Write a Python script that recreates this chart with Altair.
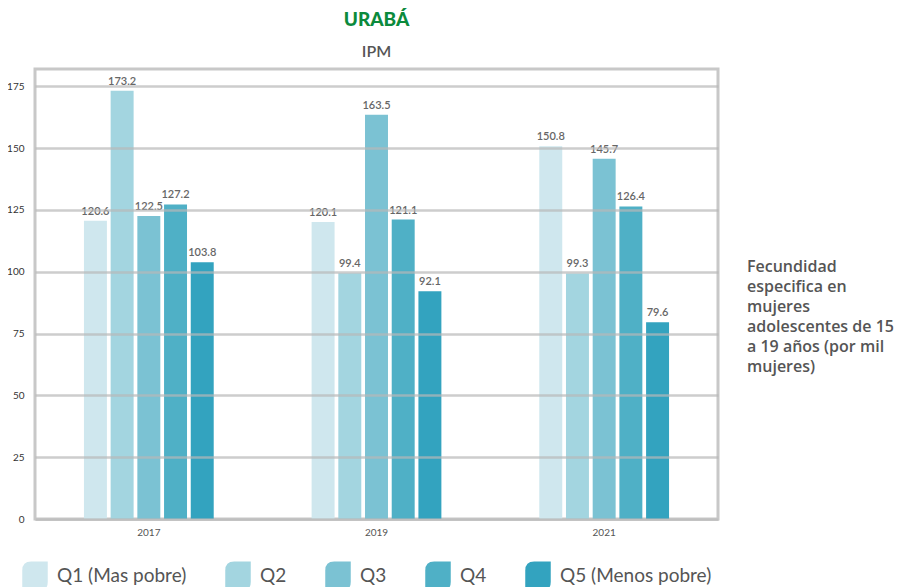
import altair as alt
import pandas as pd

years = ["2017", "2019", "2021"]
quintiles = ["Q1 (Mas pobre)", "Q2", "Q3", "Q4", "Q5 (Menos pobre)"]
values = {
    "2017": [120.6, 173.2, 122.5, 127.2, 103.8],
    "2019": [120.1, 99.4, 163.5, 121.1, 92.1],
    "2021": [150.8, 99.3, 145.7, 126.4, 79.6],
}
colors = ["#cfe7ee", "#a3d5e0", "#7bc2d3", "#4fb0c6", "#33a3bf"]
side_note = "Fecundidad\nespecifica en\nmujeres\nadolescentes de 15\na 19 años (por mil\nmujeres)"

rows = []
for y in years:
    for q, v in zip(quintiles, values[y]):
        rows.append({"year": y, "q": q, "value": v})
df = pd.DataFrame(rows)

FONT = "Lato"
leaf = "M -1 1.15 L -1 -0.45 Q -1 -1.15 -0.3 -1.15 L 1 -1.15 L 1 0.45 Q 1 1.15 0.3 1.15 Z"

x_enc = alt.X("year:N", sort=years,
              scale=alt.Scale(paddingInner=0.43, paddingOuter=0.215),
              axis=alt.Axis(title=None, labelAngle=0, labelFontSize=10, labelColor="#555",
                            labelPadding=8, ticks=False, domainColor="#d0d0d0",
                            domainWidth=3, labelFont=FONT))
xoff = alt.XOffset("q:N", sort=quintiles, scale=alt.Scale(paddingInner=0.14))
y_enc = alt.Y("value:Q", scale=alt.Scale(domain=[0, 182], nice=False),
              axis=alt.Axis(title=None, values=[0, 25, 50, 75, 100, 125, 150, 175],
                            grid=True, gridColor="#b8b8b8", gridOpacity=0.7, gridWidth=2.5,
                            zindex=1, domain=False, ticks=False, labelFontSize=10,
                            labelColor="#333", labelPadding=11, labelFont=FONT))

bars = alt.Chart(df).mark_bar().encode(
    x=x_enc, xOffset=xoff, y=y_enc,
    color=alt.Color("q:N", sort=quintiles,
                    scale=alt.Scale(domain=quintiles, range=colors),
                    legend=alt.Legend(title=None, orient="none", direction="horizontal",
                                      legendX=-13, legendY=494, symbolType=leaf,
                                      symbolSize=650, symbolStrokeWidth=0,
                                      symbolOpacity=1, labelFontSize=19,
                                      labelColor="#555", labelFont=FONT,
                                      labelOffset=9, columnPadding=38)),
)

labels = alt.Chart(df).mark_text(baseline="bottom", dy=-4, fontSize=11, color="#666",
                                 font=FONT, fontWeight=600).encode(
    x=alt.X("year:N", sort=years), xOffset=alt.XOffset("q:N", sort=quintiles),
    y="value:Q", text=alt.Text("value:Q", format=".1f"),
)

note = alt.Chart(pd.DataFrame({"t": [side_note]})).mark_text(
    align="left", baseline="top", lineBreak="\n", fontSize=16, lineHeight=20,
    color="#555", font="Open Sans", fontWeight=600,
).encode(x=alt.value(712), y=alt.value(190), text="t:N")

chart = alt.layer(bars, labels, note).properties(
    width=683, height=450,
    autosize=alt.AutoSizeParams(type="none"),
    padding={"left": 27, "top": 61, "right": 185, "bottom": 68},
    title=alt.TitleParams(text="URABÁ", subtitle="IPM", anchor="middle", frame="group",
                          fontSize=19, font=FONT, fontWeight=900, color="#0b8a3c",
                          subtitleFont=FONT, subtitleFontSize=16, subtitleColor="#555",
                          subtitleFontWeight=600, subtitlePadding=14, offset=9),
).configure_view(stroke="#c8c8c8", strokeWidth=3)

chart.save("out.html", embed_options={"renderer": "svg", "actions": False})
